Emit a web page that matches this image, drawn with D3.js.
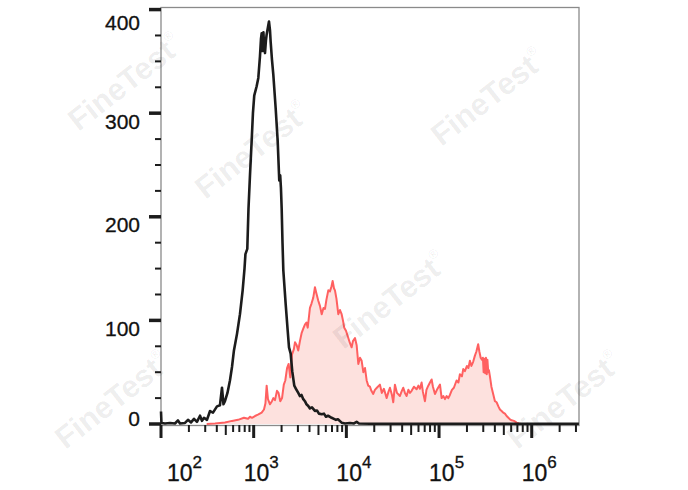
<!DOCTYPE html>
<html>
<head>
<meta charset="utf-8">
<script src="https://cdn.jsdelivr.net/npm/d3@7"></script>
<style>
  html, body { margin: 0; padding: 0; background: #fff; }
  svg { display: block; }
  text { font-family: Arial, "Liberation Sans", sans-serif; }
</style>
</head>
<body>
<svg id="chart" width="688" height="490"></svg>
<script>
// ---------- DATA ----------
// x positions are log10(fluorescence); y values are event counts
const blackLogX = [2.000,2.005,2.043,2.097,2.151,2.183,2.205,2.259,2.291,2.324,2.356,2.388,2.421,2.442,2.464,2.496,
  2.529,2.561,2.604,2.636,2.658,2.674,2.690,2.717,2.744,2.766,2.787,2.820,2.852,2.881,2.901,2.911,2.931,2.944,2.960,
  2.978,2.992,3.006,3.032,3.050,3.068,3.079,3.086,3.094,3.105,3.114,3.122,3.132,3.140,3.154,3.165,3.176,3.183,3.197,
  3.212,3.237,3.259,3.276,3.286,3.294,3.302,3.311,3.320,3.345,3.367,3.381,3.399,3.416,3.438,3.456,3.481,3.499,3.516,
  3.535,3.553,3.570,3.589,3.607,3.629,3.661,3.683,3.704,3.734,3.758,3.780,3.802,3.841,3.866,3.888,3.909,3.949,3.985,
  4.039,4.082,4.111,4.136,4.255,4.578,6.509];
const blackCounts = [12,1,0.5,1,0.5,3.5,0.5,1,4,1.5,5,2,8,3,6,4,
  12.5,11,17,18,35,19,22,30,42,55,71,87,106,129,150,164,169,208,240,
  273,300,317,326,334,355,372,377,360,378,362,358,370,376,383,388.5,380,369,352,
  337,305,273,235,240,228,208,175,148,116,90,74,68,51,37,34,30,27,28,
  24,22,19,17.4,15,16,12.6,13,10,9.4,10,7,8,6,5,4,4.5,1.3,0.5,
  1,0.5,2,0.5,0.3,0.3,0.3];

const redLogX = [2.493,2.583,2.690,2.766,2.831,2.895,2.939,2.960,2.982,3.014,3.046,3.086,3.111,3.127,3.140,3.154,
  3.176,3.197,3.212,3.230,3.251,3.268,3.287,3.306,3.325,3.341,3.360,3.377,3.395,3.413,3.433,3.446,3.464,3.481,3.499,
  3.518,3.535,3.553,3.569,3.583,3.597,3.607,3.623,3.643,3.661,3.677,3.697,3.715,3.734,3.753,3.769,3.785,3.805,3.823,
  3.840,3.852,3.866,3.877,3.893,3.913,3.931,3.949,3.963,3.977,3.996,4.021,4.039,4.057,4.071,4.093,4.111,4.129,4.147,
  4.165,4.183,4.201,4.219,4.236,4.254,4.270,4.290,4.308,4.329,4.362,4.383,4.405,4.435,4.454,4.470,4.492,4.506,4.524,
  4.546,4.578,4.594,4.614,4.632,4.650,4.669,4.686,4.704,4.729,4.758,4.777,4.794,4.812,4.826,4.848,4.864,4.884,4.902,
  4.920,4.934,4.956,4.977,5.010,5.028,5.046,5.064,5.082,5.100,5.117,5.139,5.160,5.189,5.209,5.225,5.247,5.261,5.279,
  5.301,5.317,5.333,5.349,5.368,5.387,5.403,5.422,5.435,5.449,5.463,5.473,5.481,5.490,5.498,5.506,5.515,5.522,5.531,
  5.538,5.549,5.565,5.584,5.603,5.621,5.640,5.657,5.675,5.692,5.711,5.729,5.748,5.765,5.783,5.808,5.837,5.862,5.883];
const redCounts = [0,0.5,1.5,3,4,6,5,7,6,7.7,9,11,14,20,37,24,
  19,22,25,23,32,30,22,25,38,42,54,58,45,67,72,79,76,71,80,
  88,92,96,98,93,104,112,116,122,132,126,119,114,106,112,111,120,129,128,
  133,138,131,129,121,106,110,106,100,93,90,83,78,74,80,83,76,58,64,
  61,50,54,42,37,36,32,29,33,35,38,30,34,25,31,35,28,21,38,
  30,27,31,35,30,27,33,30,32,36,33.5,37,34,40,31,22,33,37,40,
  43,36,29,33,38,25,27,24,27,25,28,33,35,42,40,48,46,53,51,
  56,54,61,56,60,66,70,77,70,64,62,64,50,63,49,64,48,62,50,
  52,46,36,29,22,21,17,14,12.6,11,10,7.7,6,4.5,3.6,3,1.3,0.5,0];

const yTickValues = [0, 100, 200, 300, 400];
const xTickExponents = [2, 3, 4, 5, 6];
const watermarkText = "FineTest";
const watermarkCenters = [[125,82],[252,150],[488,97],[390,300],[112,400],[564,400]];

// ---------- LAYOUT ----------
const L = 161, R = 579, T = 7.5, B = 424;
const svg = d3.select("#chart");

const x = d3.scaleLog().domain([100, Math.pow(10, 6.51)]).range([L, R]);
const y = d3.scaleLinear().domain([0, 402]).range([B, T]);

const blackData = blackLogX.map((lx, i) => ({ v: Math.pow(10, lx), c: blackCounts[i] }));
const redData = redLogX.map((lx, i) => ({ v: Math.pow(10, lx), c: redCounts[i] }));

// red filled histogram
const area = d3.area().x(d => x(d.v)).y0(y(0)).y1(d => y(d.c));
const line = d3.line().x(d => x(d.v)).y(d => y(d.c));

svg.append("path").datum(redData).attr("d", area).attr("fill", "#fde1de");
svg.append("path").datum(redData).attr("d", line)
  .attr("fill", "none").attr("stroke", "#ff6060").attr("stroke-width", 2)
  .attr("stroke-linejoin", "round");

// frame
svg.append("rect").attr("x", L).attr("y", T).attr("width", R - L).attr("height", B + 1.5 - T)
  .attr("fill", "none").attr("stroke", "#8a8a8a").attr("stroke-width", 1.3);

// black histogram
svg.append("path").datum(blackData).attr("d", line)
  .attr("fill", "none").attr("stroke", "#1c1c1c").attr("stroke-width", 2.6)
  .attr("stroke-linejoin", "round");

// ---------- Y AXIS ----------
const yMinor = d3.range(0, 401, 25);
svg.append("g").selectAll("line").data(yMinor).join("line")
  .attr("x1", d => (d % 100 === 0 ? L - 12 : L - 6)).attr("x2", L)
  .attr("y1", d => y(d)).attr("y2", d => y(d))
  .attr("stroke", "#1c1c1c").attr("stroke-width", d => (d % 100 === 0 ? 3.5 : 2));

svg.append("g").selectAll("text").data(yTickValues).join("text")
  .attr("x", 140)
  .attr("y", d => Math.max(22, Math.min(418, y(d) + 8)))
  .attr("dy", "0.36em")
  .attr("text-anchor", "end")
  .attr("font-size", 21)
  .attr("fill", "#111")
  .attr("stroke", "#111").attr("stroke-width", 0.3)
  .text(d => d);

// ---------- X AXIS ----------
const xTicks = x.ticks().filter(v => v >= 100 && v <= x.domain()[1]);
const mant = d => Math.round(d / Math.pow(10, Math.floor(Math.log10(d) + 1e-9)));
svg.append("g").selectAll("line").data(xTicks).join("line")
  .attr("x1", d => x(d)).attr("x2", d => x(d))
  .attr("y1", B + 1)
  .attr("y2", d => B + 1 + (mant(d) === 1 ? 13 : mant(d) === 5 ? 10 : 7))
  .attr("stroke", "#1c1c1c")
  .attr("stroke-width", d => (mant(d) === 1 ? 3 : 2));

const xl = svg.append("g").selectAll("text").data(xTickExponents).join("text")
  .attr("x", d => Math.max(167, x(Math.pow(10, d)) - 10))
  .attr("y", 481)
  .attr("font-size", 23)
  .attr("fill", "#111")
  .attr("stroke", "#111").attr("stroke-width", 0.3);
xl.append("tspan").text("10");
xl.append("tspan").attr("dy", -13).attr("font-size", 17).text(d => d);

// ---------- WATERMARKS ----------
const wm = svg.append("g").attr("pointer-events", "none");
watermarkCenters.forEach(([cx, cy]) => {
  const t = wm.append("text")
    .attr("transform", `translate(${cx},${cy}) rotate(-38)`)
    .attr("text-anchor", "middle")
    .attr("dy", "0.35em")
    .attr("font-size", 31)
    .attr("font-weight", "bold")
    .attr("fill", "#000")
    .attr("fill-opacity", 0.08);
  t.append("tspan").text(watermarkText);
  t.append("tspan").attr("dy", -16).attr("font-size", 13).attr("font-weight", "normal").text("®");
});
</script>
</body>
</html>
